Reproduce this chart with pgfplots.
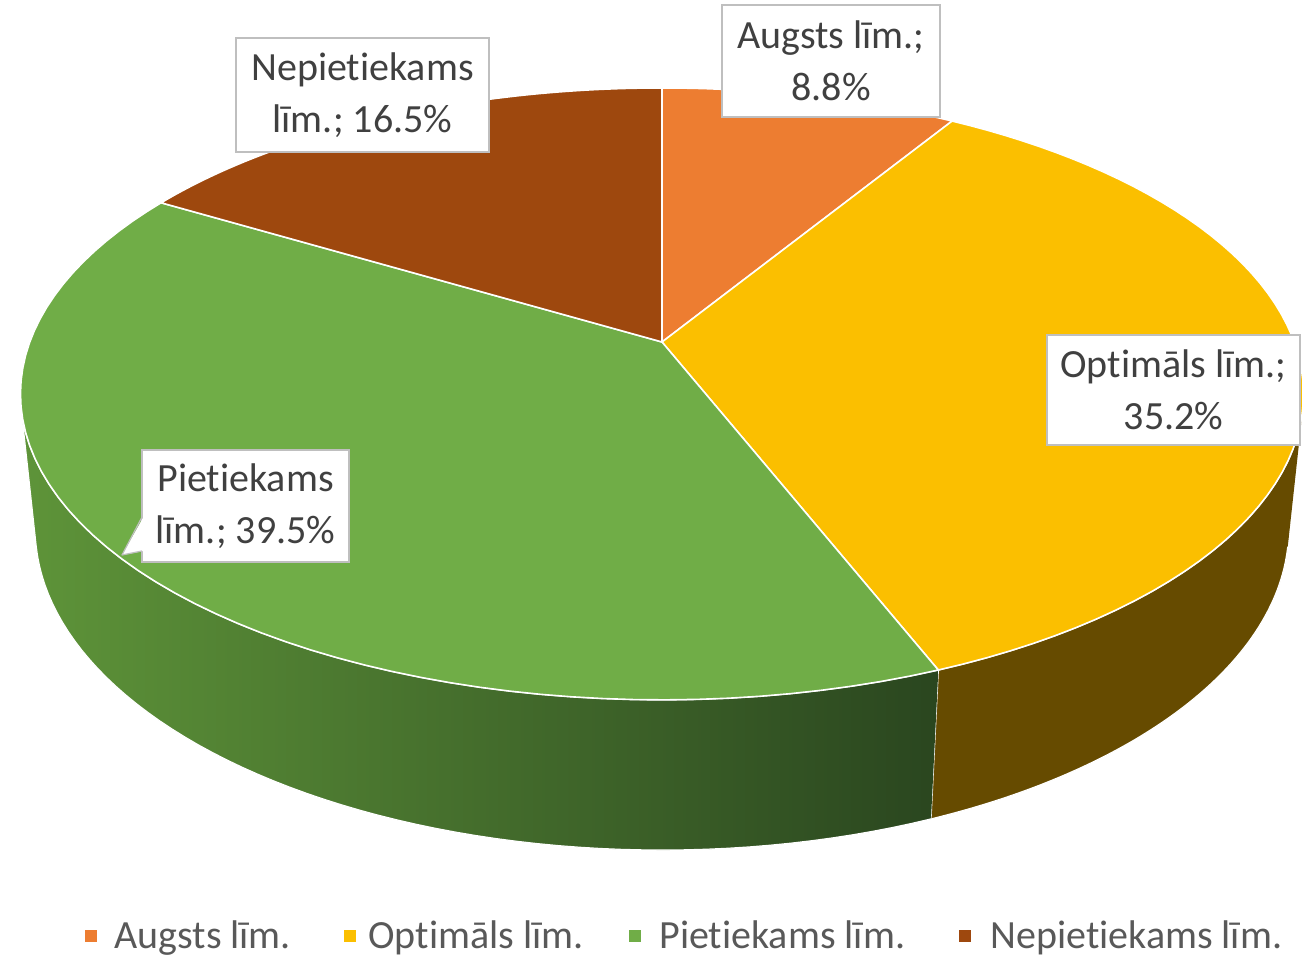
\documentclass[border=0pt]{standalone}
\usepackage{pgfplots}
\pgfplotsset{compat=1.18}
\usepackage{pgfplotstable}
\usepackage{fontspec}
\setmainfont{Carlito}[Ligatures=NoCommon]

\definecolor{cOrange}{HTML}{ED7D31}
\definecolor{cYellow}{HTML}{FBBF00}
\definecolor{cGreen}{HTML}{70AD47}
\definecolor{cBrown}{HTML}{9E480E}
\definecolor{cYellowSide}{HTML}{664B00}
\definecolor{cGreenSideL}{HTML}{5E9439}
\definecolor{cGreenSideR}{HTML}{2A461F}
\definecolor{txt}{HTML}{404040}
\definecolor{legtxt}{HTML}{595959}
\definecolor{boxline}{HTML}{BFBFBF}

\pgfplotstableread{
level value
Augsts 8.8
Optimals 35.2
Pietiekams 39.5
Nepietiekams 16.5
}\piedata

\newcommand{\slicetop}[3]{%
  \addplot[fill=#1, draw=white, line width=0.8pt, line join=round, variable=\p,
    samples at={-1,0,1,...,60,61}]
  ({PX(TR(\p)*sin(TT(\p,#2,#3)),TR(\p)*cos(TT(\p,#2,#3)),0)},
   {PY(TR(\p)*sin(TT(\p,#2,#3)),TR(\p)*cos(TT(\p,#2,#3)),0)});}

\newcommand{\sideface}[3]{%
  \addplot[#1, draw=white, line width=0.6pt, line join=round, variable=\p,
    samples at={0,1,...,121}]
  ({PX(sin(ST(\p,#2,#3)),cos(ST(\p,#2,#3)),SZ(\p))},
   {PY(sin(ST(\p,#2,#3)),cos(ST(\p,#2,#3)),SZ(\p))});}

\begin{document}
\begin{tikzpicture}
\pgfplotstablegetelem{0}{value}\of\piedata \let\vA\pgfplotsretval
\pgfplotstablegetelem{1}{value}\of\piedata \let\vB\pgfplotsretval
\pgfplotstablegetelem{2}{value}\of\piedata \let\vC\pgfplotsretval
\pgfplotstablegetelem{3}{value}\of\piedata \let\vD\pgfplotsretval
\pgfmathsetmacro\aA{0}
\pgfmathsetmacro\aB{\aA+3.6*\vA}
\pgfmathsetmacro\aC{\aB+3.6*\vB}
\pgfmathsetmacro\aD{\aC+3.6*\vC}
\pgfmathsetmacro\aE{\aD+3.6*\vD}
\pgfmathsetmacro\sL{102.7}
\pgfmathsetmacro\sR{257.3}
\begin{axis}[at={(0,0)}, anchor=south west, scale only axis,
  width=651pt, height=480pt,
  xmin=0, xmax=1302, ymin=0, ymax=960,
  hide axis, clip=false,
  declare function={
    PD(\uu,\vv,\zz)=5.18+0.879*\vv-0.477*\zz;
    PX(\uu,\vv,\zz)=662+3275*\uu/PD(\uu,\vv,\zz);
    PY(\uu,\vv,\zz)=618+3227*(0.477*\vv+0.879*\zz)/PD(\uu,\vv,\zz);
    TT(\p,\a,\b)=\a+(\b-\a)*\p/60;
    TR(\p)=(\p>-0.5)*(\p<60.5);
    ST(\p,\a,\b)=\a+(\b-\a)*((1-(\p>60.5))*\p/60+(\p>60.5)*(1-(\p-61)/60));
    SZ(\p)=-0.249*(\p>60.5);
  }]
% sides
\sideface{fill=cYellowSide}{\sL}{\aC}
\sideface{left color=cGreenSideL, right color=cGreenSideR}{\aC}{\sR}
% top faces
\slicetop{cOrange}{\aA}{\aB}
\slicetop{cYellow}{\aB}{\aC}
\slicetop{cGreen}{\aC}{\aD}
\slicetop{cBrown}{\aD}{\aE}

% data labels
\tikzset{lbl/.style={draw=boxline, fill=white, line width=0.6pt, align=center,
  text=txt, font=\fontsize{20}{26}\selectfont, inner sep=0pt}}
\node[lbl, minimum width=109pt, minimum height=56pt] at (axis cs:831,899) {Augsts līm.;\\8.8\%};
\node[lbl, minimum width=126.5pt, minimum height=57pt] at (axis cs:362.5,865) {Nepietiekams\\līm.; 16.5\%};
\node[lbl, minimum width=126.5pt, minimum height=55pt] at (axis cs:1173.5,570) {Optimāls līm.;\\35.2\%};
\node[lbl, minimum width=103.5pt, minimum height=56pt] at (axis cs:245.5,454) {Pietiekams\\līm.; 39.5\%};
\fill[white] (axis cs:143.5,443) -- (axis cs:122,405) -- (axis cs:143.5,409) -- cycle;
\draw[boxline, line width=0.6pt, line join=round] (axis cs:142,443) -- (axis cs:122,405) -- (axis cs:142,409);

% legend
\tikzset{leg/.style={anchor=base west, text=legtxt, font=\fontsize{20}{24}\selectfont, inner sep=0pt}}
\fill[cOrange] (axis cs:85,18) rectangle (axis cs:97,30);
\node[leg] at (axis cs:114,12) {Augsts līm.};
\fill[cYellow] (axis cs:344,18) rectangle (axis cs:356,30);
\node[leg] at (axis cs:368,12) {Optimāls līm.};
\fill[cGreen] (axis cs:629,18) rectangle (axis cs:641,30);
\node[leg] at (axis cs:659,12) {Pietiekams līm.};
\fill[cBrown] (axis cs:959,18) rectangle (axis cs:971,30);
\node[leg] at (axis cs:990,12) {Nepietiekams līm.};
\end{axis}
\pgfresetboundingbox
\path[use as bounding box] (0,0) rectangle (651pt,480pt);
\end{tikzpicture}
\end{document}
